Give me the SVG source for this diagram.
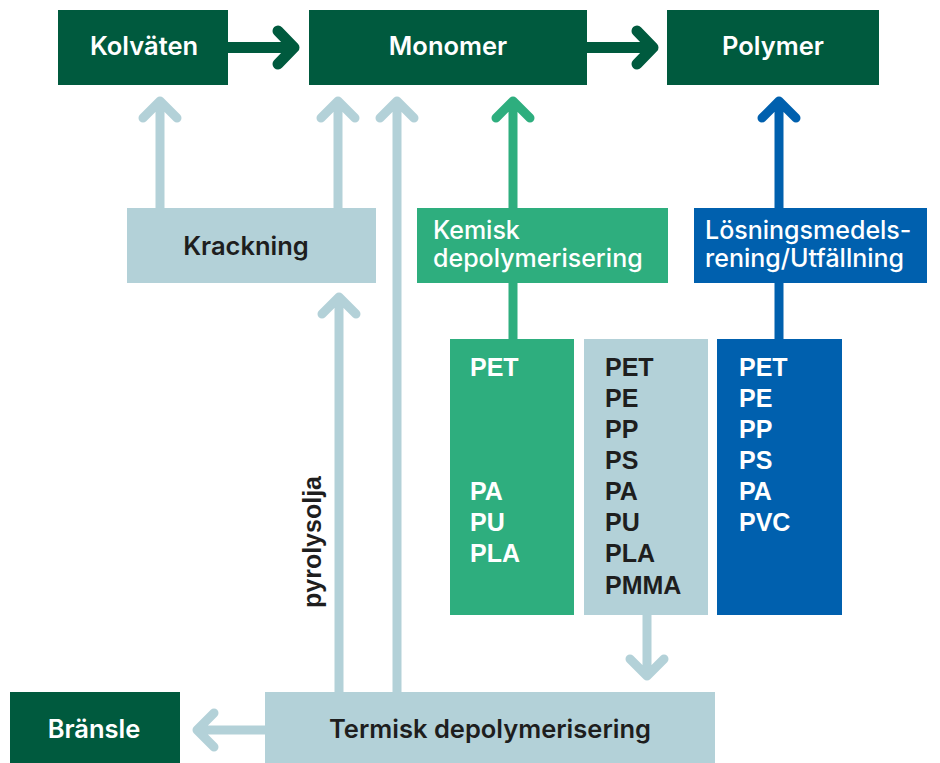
<svg xmlns="http://www.w3.org/2000/svg" width="940" height="763" viewBox="0 0 940 763">
<style>
.dk{fill:#005a3e}
.gr{fill:#2eae7e}
.lb{fill:#b3d1d8}
.bl{fill:#0060ae}
.h{font-family:Inter,"Open Sans","DejaVu Sans",sans-serif;font-weight:600;font-size:25.5px}
.r{font-family:Inter,"Open Sans","DejaVu Sans",sans-serif;font-weight:500;font-size:25px}
.c{font-family:"Liberation Sans",Arial,sans-serif;font-weight:bold;font-size:25px}
.w{fill:#ffffff}
.k{fill:#1e1e1e}
.ln{fill:none;stroke-linecap:round;stroke-linejoin:round}
</style>
<g id="connectors">
  <g class="ln" stroke="#005a3e" stroke-width="11">
    <path d="M228,47.5 H293 M278,31 L294,47.5 L278,64"/>
    <path d="M587,47.5 H652 M637,31 L653,47.5 L637,64"/>
  </g>
  <g class="ln" stroke="#b3d1d8" stroke-width="9">
    <path d="M160,210 V102 M143,118 L160,101 L177,118"/>
    <path d="M338,210 V102 M321,118 L338,101 L355,118"/>
    <path d="M397,693 V102 M380,118 L397,101 L414,118"/>
    <path d="M339,693 V298 M322,314 L339,297 L356,314"/>
    <path d="M647,613 V675 M630,659 L647,676 L664,659"/>
    <path d="M267,730 H198 M214,713 L197,730 L214,747"/>
  </g>
  <g class="ln" stroke="#2eae7e" stroke-width="9">
    <path d="M513,341 V102 M496,118 L513,101 L530,118"/>
  </g>
  <g class="ln" stroke="#0060ae" stroke-width="9">
    <path d="M779,341 V102 M762,118 L779,101 L796,118"/>
  </g>
</g>
<g id="kolvaten"><rect class="dk" x="58" y="10" width="170" height="75"/><text class="h w" x="144" y="55" text-anchor="middle">Kolväten</text></g>
<g id="monomer"><rect class="dk" x="309" y="10" width="278" height="75"/><text class="h w" x="448" y="55" text-anchor="middle">Monomer</text></g>
<g id="polymer"><rect class="dk" x="667" y="10" width="212" height="75"/><text class="h w" x="773" y="55" text-anchor="middle">Polymer</text></g>
<g id="krackning"><rect class="lb" x="127" y="208" width="249" height="75"/><text class="h k" x="246" y="255" text-anchor="middle">Krackning</text></g>
<g id="kemisk"><rect class="gr" x="417" y="208" width="251" height="75"/><text class="r w" x="433" y="239">Kemisk</text><text class="r w" x="433" y="267">depolymerisering</text></g>
<g id="losning"><rect class="bl" x="694" y="208" width="233" height="75"/><text class="r w" x="705" y="239">Lösningsmedels-</text><text class="r w" x="705" y="267">rening/Utfällning</text></g>
<g id="col-green"><rect class="gr" x="450" y="339" width="124" height="276"/>
  <text class="c w" x="470" y="376">PET</text>
  <text class="c w" x="470" y="500">PA</text>
  <text class="c w" x="470" y="531">PU</text>
  <text class="c w" x="470" y="562">PLA</text>
</g>
<g id="col-lightblue"><rect class="lb" x="584" y="339" width="124" height="276"/>
  <text class="c k" x="605" y="376">PET</text>
  <text class="c k" x="605" y="407">PE</text>
  <text class="c k" x="605" y="438">PP</text>
  <text class="c k" x="605" y="469">PS</text>
  <text class="c k" x="605" y="500">PA</text>
  <text class="c k" x="605" y="531">PU</text>
  <text class="c k" x="605" y="562">PLA</text>
  <text class="c k" x="605" y="594">PMMA</text>
</g>
<g id="col-blue"><rect class="bl" x="717" y="339" width="125" height="276"/>
  <text class="c w" x="739" y="376">PET</text>
  <text class="c w" x="739" y="407">PE</text>
  <text class="c w" x="739" y="438">PP</text>
  <text class="c w" x="739" y="469">PS</text>
  <text class="c w" x="739" y="500">PA</text>
  <text class="c w" x="739" y="531">PVC</text>
</g>
<g id="pyrolysolja"><text class="k" font-family="'Liberation Sans',Arial,sans-serif" font-weight="bold" font-size="25" transform="translate(321,608) rotate(-90)">pyrolysolja</text></g>
<g id="termisk"><rect class="lb" x="265" y="692" width="450" height="71"/><text class="h k" x="490" y="738" text-anchor="middle">Termisk depolymerisering</text></g>
<g id="bransle"><rect class="dk" x="10" y="692" width="170" height="71"/><text class="h w" x="94" y="738" text-anchor="middle">Bränsle</text></g>
</svg>
